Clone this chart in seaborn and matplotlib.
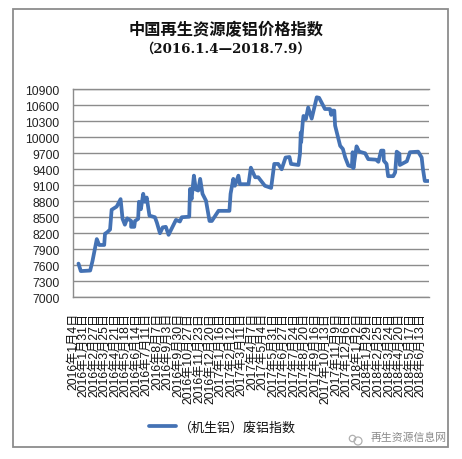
import matplotlib
matplotlib.use("Agg")
import matplotlib.pyplot as plt
import pandas as pd
import seaborn as sns
from matplotlib.patches import Rectangle, Circle

title = "中国再生资源废铝价格指数"
subtitle = "（2016.1.4—2018.7.9）"
series_name = "（机生铝）废铝指数"
watermark = "再生资源信息网"

days = [14, 20, 44, 50, 61, 67, 80, 82, 88, 95, 99, 112, 122, 127, 133, 139, 149, 149, 157, 159,
        167, 169, 174, 180, 184, 189, 196, 210, 215, 223, 230, 238, 245, 264, 274, 279, 298, 300,
        304, 310, 315, 321, 326, 332, 341, 350, 356, 373, 401, 404, 411, 415, 424, 428, 450, 456,
        467, 475, 492, 508, 516, 526, 535, 545, 555, 559, 578, 582, 584, 585, 589, 591, 597, 603,
        612, 625, 631, 646, 659, 662, 665, 670, 672, 685, 692, 698, 706, 715, 717, 719, 727, 734,
        749, 757, 777, 783, 790, 796, 797, 804, 808, 821, 826, 830, 837, 838, 856, 864, 885, 894,
        897, 902, 911]
index_values = [7630, 7490, 7500, 7680, 8090, 7980, 7980, 8190, 8220, 8270, 8640, 8700, 8840, 8470,
                8360, 8480, 8430, 8320, 8320, 8430, 8470, 8790, 8650, 8940, 8790, 8870, 8530, 8500,
                8400, 8200, 8310, 8320, 8170, 8450, 8420, 8500, 8510, 9030, 8840, 9280, 9020, 9000,
                9220, 8940, 8810, 8430, 8430, 8620, 8620, 8940, 9220, 9090, 9280, 9120, 9120, 9430,
                9250, 9250, 9090, 9050, 9500, 9500, 9400, 9620, 9630, 9500, 9480, 9690, 10090, 9910,
                10280, 10400, 10340, 10560, 10350, 10750, 10740, 10530, 10530, 10420, 10500, 10500,
                10220, 9840, 9780, 9620, 9470, 9450, 9720, 9420, 9830, 9730, 9700, 9590, 9580, 9540,
                9750, 9750, 9560, 9500, 9270, 9270, 9340, 9730, 9690, 9480, 9550, 9720, 9730, 9620,
                9420, 9180, 9180]

tick_labels = ["2016年1月4日", "2016年1月31日", "2016年2月27日", "2016年3月25日", "2016年4月21日",
               "2016年5月18日", "2016年6月14日", "2016年7月11日", "2016年8月7日", "2016年9月3日",
               "2016年9月30日", "2016年10月27日", "2016年11月23日", "2016年12月20日", "2017年1月16日",
               "2017年2月12日", "2017年3月11日", "2017年4月7日", "2017年5月4日", "2017年5月31日",
               "2017年6月27日", "2017年7月24日", "2017年8月20日", "2017年9月16日", "2017年10月13日",
               "2017年11月9日", "2017年12月6日", "2018年1月2日", "2018年1月29日", "2018年2月25日",
               "2018年3月24日", "2018年4月20日", "2018年5月17日", "2018年6月13日"]
y_ticks = list(range(7000, 11200, 300))

sns.set_style("white")
FONTS = ["Liberation Sans", "Noto Sans CJK SC"]
plt.rcParams["font.family"] = FONTS

W, H = 462, 460
fig = plt.figure(figsize=(W / 100, H / 100), dpi=100, facecolor="white")
ax = fig.add_axes([72.7 / W, 1 - 298.2 / H, (429 - 72.7) / W, (298.2 - 90.3) / H])

df = pd.DataFrame({"day": days, "value": index_values, "series": series_name})
sns.lineplot(data=df, x="day", y="value", hue="series", palette=["#4472B4"], sort=False,
             estimator=None, linewidth=2.7, ax=ax, solid_joinstyle="round")

ax.set_xlim(-0.8, 912.8)
ax.set_ylim(7000, 10900)
ax.set_yticks(y_ticks)
ax.set_xticks([27 * i for i in range(len(tick_labels))])
ax.set_xticklabels(tick_labels, rotation=90, va="top", ha="center", fontsize=8.8, color="#111111")
ax.tick_params(axis="x", length=0, pad=10.5)
ax.tick_params(axis="y", length=0, pad=9.5, labelsize=8.8, labelcolor="#222222")
ax.set_xlabel("")
ax.set_ylabel("")
ax.grid(axis="y", color="#8c8c8c", linewidth=1.0)
ax.set_axisbelow(True)
for side, spine in ax.spines.items():
    spine.set_visible(side in ("left", "bottom", "top"))
    spine.set_color("#8c8c8c")
    spine.set_linewidth(1.0)

handles, labels = ax.get_legend_handles_labels()
ax.legend(handles, labels, loc="center left", bbox_to_anchor=(137 / W, 1 - 428 / H),
          bbox_transform=fig.transFigure, frameon=False, fontsize=9.4, handlelength=2.1,
          handletextpad=0.2, borderpad=0.4, labelcolor="#111111")

fig.text(226 / W, 1 - 30 / H, title, ha="center", va="center", fontsize=11.7, fontweight="bold",
         family="Noto Sans CJK SC", color="#111111")
fig.text(225 / W, 1 - 49 / H, subtitle, ha="center", va="center", fontsize=9.6, fontweight="bold",
         family=["DejaVu Serif", "Noto Sans CJK SC"], color="#111111")
fig.text(447 / W, 1 - 438 / H, watermark, ha="right", va="center", fontsize=7.8,
         family="Noto Sans CJK SC", color="#8a8a8a")

fig.patches.append(Rectangle((12.5 / W, 1 - 448 / H), 435 / W, 438.5 / H, transform=fig.transFigure,
                             fill=False, edgecolor="#8c8c8c", linewidth=1.3, figure=fig))
for cx, cy, r in [(352.5, 439.5, 3.2), (358, 442, 4.0)]:
    fig.patches.append(Circle((cx, H - cy), r, transform=None, fill=False, edgecolor="#b0b0b0",
                              linewidth=0.9, figure=fig))

fig.savefig("out.png", dpi=100, facecolor="white")
